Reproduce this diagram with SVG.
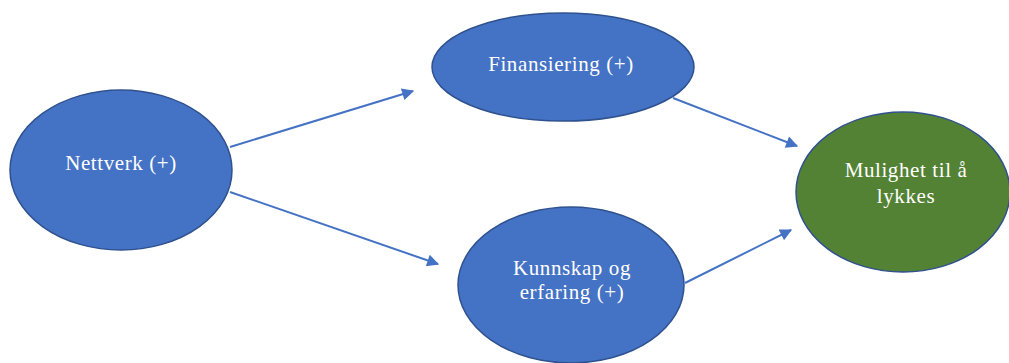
<svg xmlns="http://www.w3.org/2000/svg" width="1009" height="363" viewBox="0 0 1009 363">
<defs>
<style>
.node{stroke:#2F528F;stroke-width:1.5}
.blue{fill:#4472C4}
.green{fill:#548235}
.lbl{font-family:"Liberation Serif","Times New Roman",serif;font-size:21px;letter-spacing:0.6px;fill:#FFFFFF;text-anchor:middle}
.conn{stroke:#4472C4;stroke-width:2;fill:none;marker-end:url(#ah)}
</style>
<marker id="ah" viewBox="0 0 10 10" refX="9" refY="5" markerWidth="6.5" markerHeight="6" markerUnits="strokeWidth" orient="auto">
<path d="M0,0 L10,5 L0,10 z" fill="#4472C4"/>
</marker>
</defs>
<rect width="1009" height="363" fill="#FFFFFF"/>
<g id="connectors">
<line class="conn" x1="230" y1="147" x2="413" y2="91"/>
<line class="conn" x1="230" y1="192" x2="438" y2="264"/>
<line class="conn" x1="673" y1="98" x2="797" y2="146"/>
<line class="conn" x1="685" y1="283" x2="791" y2="230"/>
</g>
<g id="nettverk">
<ellipse class="node blue" cx="121" cy="170" rx="111" ry="80"/>
<text class="lbl" x="121" y="170">Nettverk (+)</text>
</g>
<g id="finansiering">
<ellipse class="node blue" cx="563" cy="67" rx="131" ry="54"/>
<text class="lbl" x="561" y="71">Finansiering (+)</text>
</g>
<g id="kunnskap">
<ellipse class="node blue" cx="571" cy="285" rx="113" ry="78"/>
<text class="lbl" x="572" y="275">Kunnskap og</text>
<text class="lbl" x="572" y="299">erfaring (+)</text>
</g>
<g id="mulighet">
<ellipse class="node green" cx="903" cy="192" rx="107" ry="80"/>
<text class="lbl" x="906" y="177">Mulighet til å</text>
<text class="lbl" x="906" y="203">lykkes</text>
</g>
</svg>
